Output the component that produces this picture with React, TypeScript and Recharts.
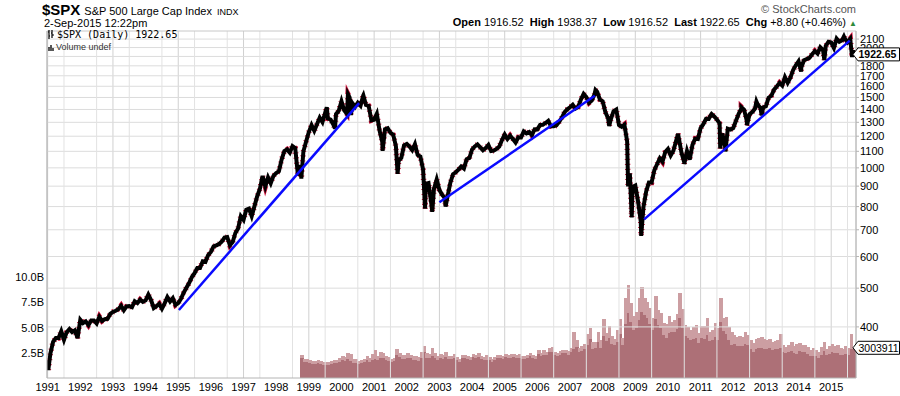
import React from 'react';
import { ComposedChart, Line, Bar, XAxis, YAxis, CartesianGrid, ReferenceLine, ReferenceDot } from 'recharts';

// S&P 500 month-end closes, one row per year
const spx1991to1995 = [
  343, 367, 375, 375, 390, 371, 388, 395, 388, 392, 375, 417,
  409, 413, 404, 415, 415, 408, 424, 414, 418, 419, 431, 436,
  439, 443, 452, 440, 450, 451, 448, 464, 459, 468, 462, 466,
  482, 467, 446, 451, 457, 444, 458, 475, 463, 472, 454, 459,
  470, 487, 501, 515, 533, 545, 562, 562, 584, 582, 605, 616,
];
const spx1996to2000 = [
  636, 640, 645, 654, 669, 671, 640, 652, 687, 705, 757, 741,
  786, 791, 757, 801, 848, 885, 954, 899, 947, 915, 955, 970,
  980, 1049, 1102, 1112, 1091, 1134, 1121, 957, 1017, 1099, 1164, 1229,
  1280, 1238, 1286, 1335, 1302, 1373, 1329, 1320, 1283, 1363, 1389, 1469,
  1394, 1366, 1499, 1452, 1421, 1455, 1431, 1518, 1437, 1429, 1315, 1320,
];
const spx2001to2005 = [
  1366, 1240, 1160, 1249, 1256, 1224, 1211, 1134, 1041, 1060, 1139, 1148,
  1130, 1107, 1147, 1077, 1067, 990, 912, 916, 815, 886, 936, 880,
  856, 841, 848, 917, 964, 975, 990, 1008, 996, 1051, 1058, 1112,
  1131, 1145, 1126, 1107, 1121, 1141, 1102, 1104, 1115, 1130, 1174, 1212,
  1181, 1204, 1181, 1157, 1192, 1191, 1234, 1220, 1229, 1207, 1249, 1248,
];
const spx2006to2010 = [
  1280, 1281, 1295, 1311, 1270, 1270, 1277, 1304, 1336, 1378, 1401, 1418,
  1438, 1407, 1421, 1482, 1531, 1503, 1455, 1474, 1527, 1549, 1481, 1468,
  1379, 1331, 1323, 1386, 1400, 1280, 1267, 1283, 1165, 969, 896, 903,
  826, 735, 798, 873, 919, 919, 987, 1021, 1057, 1036, 1096, 1115,
  1074, 1104, 1169, 1187, 1089, 1031, 1102, 1049, 1141, 1183, 1181, 1258,
];
const spx2011to2015 = [
  1286, 1327, 1326, 1364, 1345, 1321, 1292, 1219, 1131, 1253, 1247, 1258,
  1312, 1366, 1408, 1398, 1310, 1362, 1379, 1407, 1441, 1412, 1416, 1426,
  1498, 1515, 1569, 1598, 1631, 1606, 1686, 1633, 1682, 1757, 1806, 1848,
  1783, 1859, 1872, 1884, 1924, 1960, 1931, 2003, 1972, 2018, 2068, 2059,
  1995, 2105, 2068, 2086, 2107, 2063, 2104, 1972,
];
// swing highs / lows between month ends: [year fraction, price]
const spxSwings: [number, number][] = [
  [1991.0, 330], [1991.02, 312], [1998.77, 940], [1999.55, 1418], [1999.8, 1254],
  [2000.2, 1527], [2000.29, 1356], [2000.67, 1520], [2001.26, 1103], [2001.72, 966],
  [2002.56, 790], [2002.78, 776], [2003.19, 800], [2007.78, 1565], [2008.2, 1273],
  [2008.78, 899], [2008.89, 752], [2009.18, 676], [2010.31, 1217], [2010.5, 1022],
  [2011.33, 1363], [2011.6, 1119], [2011.76, 1099], [2012.25, 1419], [2012.42, 1278],
  [2012.71, 1466], [2012.87, 1353], [2014.08, 1741], [2014.79, 1862], [2015.39, 2131],
  [2015.64, 1893], [2015.67, 1922.65],
];

// monthly average volume, billions, Oct 1998 .. Sep 2015
const vol1998to2002 = [
  2.0, 1.6, 1.6,
  1.5, 1.4, 1.4, 1.5, 1.4, 1.3, 1.3, 1.3, 1.4, 1.5, 1.5, 1.6,
  1.8, 1.7, 1.9, 1.7, 1.5, 1.5, 1.4, 1.5, 1.6, 1.8, 1.6, 1.8,
  1.9, 1.8, 2.0, 2.0, 1.8, 1.7, 1.6, 1.7, 2.3, 2.1, 1.9, 1.9,
  2.0, 2.0, 1.8, 1.8, 1.7, 2.0, 2.6, 2.0, 2.0, 2.2, 2.0, 1.8,
];
const vol2003to2007 = [
  2.0, 1.9, 2.1, 1.9, 1.9, 2.0, 1.8, 1.6, 2.0, 2.0, 1.9, 1.8,
  2.1, 2.0, 2.1, 1.9, 1.8, 1.8, 1.8, 1.6, 1.8, 2.0, 2.0, 1.9,
  2.1, 2.0, 2.0, 2.1, 2.0, 2.0, 1.9, 1.9, 2.0, 2.2, 2.0, 1.9,
  2.4, 2.2, 2.3, 2.3, 2.6, 2.6, 2.3, 2.2, 2.3, 2.5, 2.5, 2.3,
  2.6, 2.9, 3.1, 2.6, 2.7, 2.9, 3.3, 3.9, 2.9, 3.0, 3.6, 3.0,
];
const vol2008to2012 = [
  4.2, 3.7, 4.0, 3.4, 3.3, 3.6, 4.4, 3.3, 5.4, 6.5, 5.6, 4.8,
  5.0, 5.8, 6.6, 6.3, 6.0, 5.4, 4.8, 5.9, 5.3, 5.0, 4.3, 4.0,
  4.5, 4.6, 4.6, 4.9, 6.0, 5.0, 4.2, 4.0, 3.8, 3.9, 4.0, 3.5,
  4.0, 3.9, 4.3, 3.7, 3.8, 4.1, 3.8, 5.6, 4.7, 4.4, 3.8, 3.3,
  3.4, 3.2, 3.2, 3.2, 3.4, 3.3, 2.9, 2.6, 2.9, 3.0, 3.0, 2.9,
];
const vol2013to2015 = [
  2.9, 3.0, 2.8, 2.9, 2.9, 3.0, 2.6, 2.5, 2.6, 2.7, 2.5, 2.4,
  2.7, 2.6, 2.6, 2.4, 2.2, 2.2, 2.2, 2.0, 2.3, 2.7, 2.3, 2.4,
  2.6, 2.5, 2.5, 2.3, 2.3, 2.4, 2.3, 2.9, 3.0,
];
// busiest day of each month, billions
const peak1998to2002 = [
  2.3, 1.9, 1.9,
  1.8, 1.7, 1.7, 1.8, 1.7, 1.6, 1.6, 1.6, 1.7, 1.8, 1.8, 2.0,
  2.2, 2.1, 2.5, 2.4, 1.9, 1.9, 1.7, 1.8, 1.9, 2.2, 2.0, 2.4,
  2.8, 2.2, 2.6, 2.5, 2.2, 2.1, 1.9, 2.0, 2.9, 2.5, 2.3, 2.3,
  2.5, 2.3, 2.2, 2.2, 2.1, 2.6, 3.2, 2.5, 2.4, 3.0, 2.5, 2.2,
];
const peak2003to2007 = [
  2.4, 2.3, 2.6, 2.2, 2.2, 2.4, 2.1, 1.9, 2.3, 2.3, 2.2, 2.1,
  2.4, 2.3, 2.5, 2.2, 2.1, 2.3, 2.1, 1.9, 2.1, 2.3, 2.3, 2.2,
  2.4, 2.3, 2.4, 2.4, 2.3, 2.4, 2.2, 2.2, 2.3, 2.5, 2.3, 2.2,
  2.8, 2.5, 2.8, 2.6, 3.0, 3.1, 2.6, 2.5, 2.7, 2.8, 2.8, 2.7,
  3.0, 4.6, 3.8, 3.0, 3.2, 3.4, 4.4, 5.0, 3.6, 3.6, 4.6, 3.8,
];
const peak2008to2012 = [
  5.9, 4.5, 5.2, 4.2, 3.9, 4.8, 5.9, 4.0, 8.0, 9.2, 7.5, 6.2,
  6.6, 8.0, 9.0, 8.0, 7.6, 7.0, 6.0, 8.2, 6.8, 6.5, 5.5, 5.4,
  6.2, 5.6, 5.8, 6.4, 8.5, 6.9, 5.3, 5.1, 4.8, 5.1, 5.3, 4.5,
  5.2, 5.2, 6.0, 4.6, 4.8, 5.5, 5.0, 8.0, 6.0, 6.1, 5.1, 4.6,
  4.3, 4.1, 4.2, 4.1, 4.6, 4.3, 3.8, 3.5, 3.9, 4.0, 4.1, 3.9,
];
const peak2013to2015 = [
  3.8, 3.9, 3.6, 3.7, 3.8, 4.4, 3.3, 3.1, 3.3, 3.6, 3.2, 3.4,
  3.5, 3.3, 3.3, 3.1, 2.8, 3.0, 2.8, 2.6, 3.1, 3.6, 2.9, 3.2,
  3.4, 3.2, 3.3, 3.0, 2.9, 3.2, 3.0, 4.4, 3.0,
];

// hand-drawn trend lines [year fraction, price]
const trendA: [number, number][] = [[1995.02, 441], [2000.54, 1452]];
const trendB: [number, number][] = [[2003.0, 820], [2007.76, 1515]];
const trendC: [number, number][] = [[2009.27, 743], [2015.57, 2082]];

const years = Array.from({ length: 25 }, (_, i) => 1991 + i);
const priceTicks = [400, 500, 600, 700, 800, 900, 1000, 1100, 1200, 1300, 1400, 1500, 1600, 1700, 1800, 1900, 2000, 2100];
const volTicks = [2.5e9, 5e9, 7.5e9, 10e9];
const lastPrice = 1922.65;
const lastVolume = 3003911; // thousands of shares

const X_MIN = 1990.98;
const X_MAX = 2015.76;
const PRICE_DOMAIN = [298, 2200];
const VOL_DOMAIN = [0, 34.5e9];

const monthly = (start: number, values: number[], offset: number) =>
  values.map((v, i) => ({ t: start + (i + offset) / 12, v }));

const priceData = [
  ...monthly(1991, spx1991to1995, 1),
  ...monthly(1996, spx1996to2000, 1),
  ...monthly(2001, spx2001to2005, 1),
  ...monthly(2006, spx2006to2010, 1),
  ...monthly(2011, spx2011to2015, 1),
  ...spxSwings.map(([t, v]) => ({ t, v })),
]
  .sort((a, b) => a.t - b.t)
  .map((d) => ({ t: d.t, price: d.v }));

const volAvg = [
  ...monthly(1998, vol1998to2002, 9.5),
  ...monthly(2003, vol2003to2007, 0.5),
  ...monthly(2008, vol2008to2012, 0.5),
  ...monthly(2013, vol2013to2015, 0.5),
];
const volPeak = [...peak1998to2002, ...peak2003to2007, ...peak2008to2012, ...peak2013to2015];
const volumeData = volAvg.map((d, i) => ({ t: d.t, vol: d.v * 1e9, peak: volPeak[i] * 1e9 }));

const toRows = (pts: [number, number][]) => pts.map(([t, price]) => ({ t, price }));

const font = '"Liberation Sans", Arial, sans-serif';

// boxed value tag, arrow pointing left at (x, y)
const drawTag = (x: number, y: number, text: string, bold: boolean) => {
  const h = 13;
  const w = 46.5;
  return (
    <g>
      <path
        d={`M${x},${y} L${x + 5},${y - h / 2} L${x + w},${y - h / 2} L${x + w},${y + h / 2} L${x + 5},${y + h / 2} Z`}
        fill="#fff"
        stroke="#000"
        strokeWidth={1}
      />
      <text x={x + 5.5} y={y + 4} fontSize={10.5} fontFamily={font} fontWeight={bold ? 'bold' : 'normal'} fill="#000">
        {text}
      </text>
    </g>
  );
};

const PriceTick = (p: any) => {
  const v = p.payload.value;
  if (v === lastPrice) return drawTag(p.x - 7, p.y, lastPrice.toFixed(2), true);
  return (
    <text x={p.x} y={p.y + 4} fontSize={11} fontFamily={font} fill="#000" textAnchor="start">
      {v}
    </text>
  );
};

const VolTag = (p: any) => drawTag(p.viewBox.x - 3, p.viewBox.y + (p.viewBox.height || 0) / 2, String(lastVolume), false);

// average volume drawn over the busiest-day bar, scaled from the same baseline
const VolBar = (p: any) => {
  if (!p.height || p.height <= 0) return null;
  const cx = p.x + p.width / 2;
  const base = p.y + p.height;
  const peakH = (p.height * p.payload.peak) / p.payload.vol;
  return (
    <g shapeRendering="crispEdges">
      <rect x={cx - 1.8} y={base - peakH} width={3.6} height={peakH} fill="#cc9ea2" />
      <rect x={cx - 1.8} y={p.y} width={3.6} height={p.height} fill="#ad7077" />
    </g>
  );
};

const App = () => {
  return (
    <div style={{ position: 'absolute', left: 0, top: 0, width: 900, height: 396, background: '#fff', fontFamily: font }}>
      <div style={{ position: 'absolute', left: 42, top: 1, whiteSpace: 'nowrap', color: '#000' }}>
        <span style={{ fontSize: 15, fontWeight: 'bold' }}>$SPX</span>
        <span style={{ fontSize: 11, marginLeft: 4 }}>S&amp;P 500 Large Cap Index</span>
        <span style={{ fontSize: 9, marginLeft: 5 }}>INDX</span>
      </div>
      <div style={{ position: 'absolute', left: 44, top: 17, fontSize: 11, color: '#000' }}>2-Sep-2015 12:22pm</div>
      <div style={{ position: 'absolute', right: 44, top: 3, fontSize: 11, color: '#555' }}>© StockCharts.com</div>
      <div style={{ position: 'absolute', right: 43, top: 16, fontSize: 11, color: '#000', whiteSpace: 'nowrap' }}>
        <b>Open</b> 1916.52 &nbsp;<b>High</b> 1938.37 &nbsp;<b>Low</b> 1916.52 &nbsp;<b>Last</b> 1922.65 &nbsp;<b>Chg</b> +8.80 (+0.46%){' '}
        <span style={{ color: '#2e8b3a', fontSize: 8 }}>▲</span>
      </div>

      <ComposedChart
        width={900}
        height={396}
        data={volumeData}
        margin={{ top: 31, right: 0, bottom: 0, left: 7 }}
      >
        <CartesianGrid yAxisId="price" horizontal={false} stroke="#d0d0d0" strokeWidth={1} />
        {priceTicks.map((v) => (
          <ReferenceLine key={'h' + v} y={v} yAxisId="price" stroke="#dcdcdc" strokeWidth={1} />
        ))}
        {years.map((y) => (
          <ReferenceLine key={y} x={y + 0.5} yAxisId="price" stroke="#e2e2e2" strokeWidth={1} />
        ))}
        <ReferenceLine y={PRICE_DOMAIN[1]} yAxisId="price" stroke="#c8c8c8" ifOverflow="visible" />
        <XAxis
          dataKey="t"
          type="number"
          domain={[X_MIN, X_MAX]}
          allowDataOverflow
          ticks={years}
          tickFormatter={(v) => String(v)}
          height={18}
          tickSize={0}
          tickMargin={5}
          stroke="#b4b4b4"
          tick={{ fontSize: 11, fill: '#000', fontFamily: font }}
        />
        <YAxis
          yAxisId="vol"
          orientation="left"
          width={40}
          domain={VOL_DOMAIN}
          allowDataOverflow
          ticks={volTicks}
          tickFormatter={(v) => (v / 1e9).toFixed(1) + 'B'}
          tickSize={0}
          tickMargin={3}
          stroke="#b4b4b4"
          tick={{ fontSize: 11, fill: '#000', fontFamily: font }}
        />
        <YAxis
          yAxisId="price"
          orientation="right"
          width={44}
          scale="log"
          domain={PRICE_DOMAIN}
          allowDataOverflow
          ticks={[...priceTicks, lastPrice]}
          interval={0}
          tickSize={3}
          tickMargin={1}
          stroke="#b4b4b4"
          tick={PriceTick}
        />
        <Bar yAxisId="vol" dataKey="vol" fill="#ad7077" shape={VolBar} isAnimationActive={false} />
        <Line
          yAxisId="price"
          data={priceData}
          dataKey="price"
          type="linear"
          stroke="#d0103a"
          strokeWidth={5.5}
          strokeDasharray="1 4"
          dot={false}
          isAnimationActive={false}
        />
        <Line
          yAxisId="price"
          data={priceData}
          dataKey="price"
          type="linear"
          stroke="#000"
          strokeWidth={4}
          dot={false}
          isAnimationActive={false}
        />
        {[trendA, trendB, trendC].map((seg, i) => (
          <Line
            key={i}
            yAxisId="price"
            data={toRows(seg)}
            dataKey="price"
            stroke="#0a0aff"
            strokeWidth={2.5}
            dot={false}
            isAnimationActive={false}
          />
        ))}
        <ReferenceDot
          yAxisId="vol"
          x={X_MAX}
          y={lastVolume * 1000}
          r={0}
          ifOverflow="visible"
          label={<VolTag />}
        />
      </ComposedChart>

      <div style={{ position: 'absolute', left: 48, top: 29, fontSize: 10, fontFamily: '"DejaVu Sans Mono", monospace', whiteSpace: 'nowrap', display: 'flex', alignItems: 'center' }}>
        <svg width={7} height={9} style={{ marginRight: 2 }}>
          <path d="M1 0 V9 M0 2 H1 M1 6 H2 M4 0 V8 M3 3 H4 M4 5 H6" stroke="#000" strokeWidth={1.2} />
        </svg>
        $SPX (Daily) 1922.65
      </div>
      <div style={{ position: 'absolute', left: 48, top: 42, fontSize: 9, whiteSpace: 'nowrap', display: 'flex', alignItems: 'center', color: '#333' }}>
        <svg width={7} height={7} style={{ marginRight: 1 }}>
          <path d="M1 3 V7 M3 1 V7 M5 4 V7" stroke="#000" strokeWidth={1.3} />
        </svg>
        Volume undef
      </div>
    </div>
  );
};

export default App;
